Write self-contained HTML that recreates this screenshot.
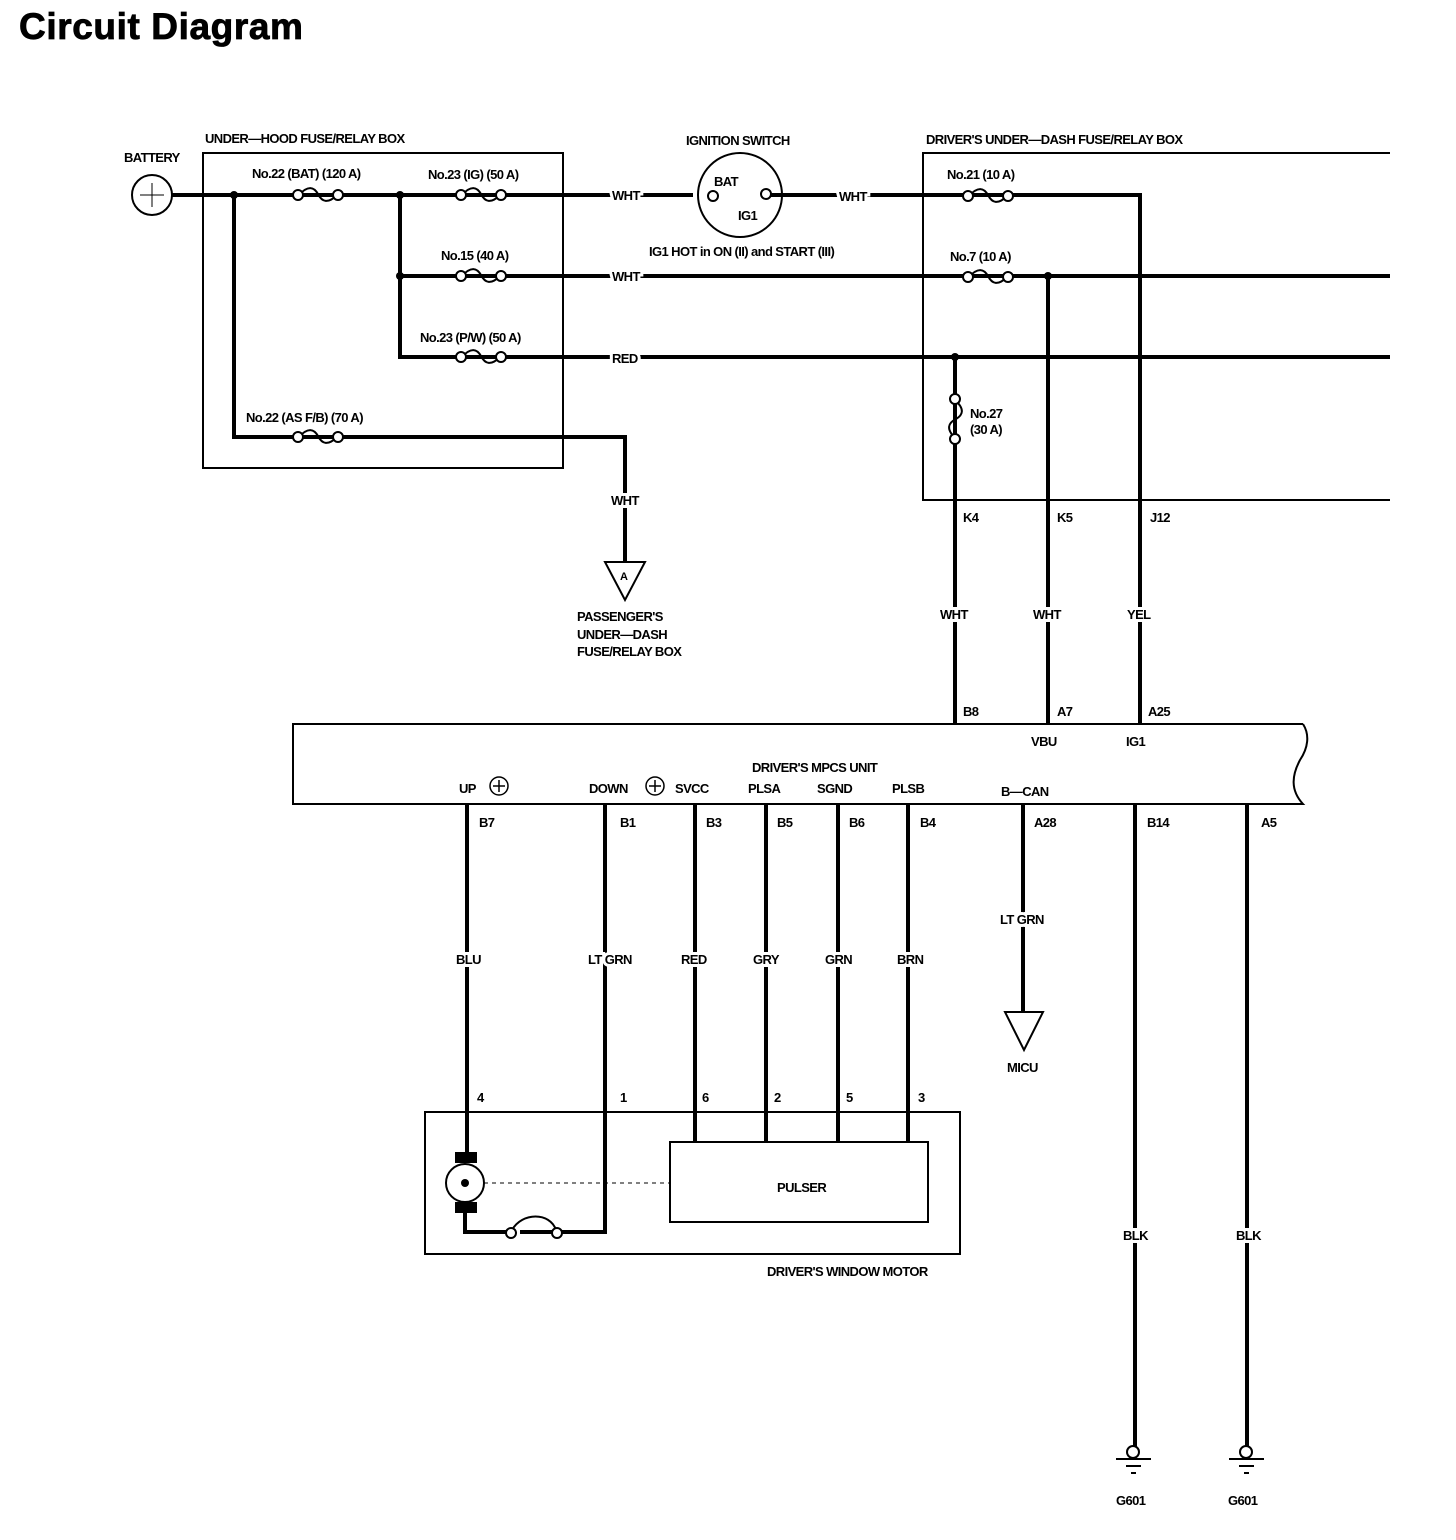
<!DOCTYPE html>
<html><head><meta charset="utf-8"><style>
html,body{margin:0;padding:0;background:#fff}
svg{display:block}
text{font-family:"Liberation Sans",sans-serif;font-weight:bold;font-size:13px;fill:#000;letter-spacing:-0.6px}
.lbl{paint-order:stroke;stroke:#fff;stroke-width:6px}
</style></head><body>
<svg width="1456" height="1540" viewBox="0 0 1456 1540" xmlns="http://www.w3.org/2000/svg">
<defs>
<g id="fh" fill="#fff" stroke="#000" stroke-width="2">
<path d="M-19,0 C-10,-10 -4,-8 0,-1 C4,7 10,9 19,0" fill="none"/>
<circle cx="-20" cy="0" r="5"/><circle cx="20" cy="0" r="5"/>
</g>
</defs>
<text x="19" y="39" style="font-size:37px;letter-spacing:0.6px;stroke:#000;stroke-width:0.8px">Circuit Diagram</text>

<g stroke="#000" fill="none">
<rect x="203" y="153" width="360" height="315" stroke-width="2"/>
<path d="M1390,153 H923 V500 H1390" stroke-width="2"/>
<circle cx="152" cy="195" r="20" stroke-width="2"/>
<path d="M140,195 H164 M152,183 V207" stroke-width="1"/>
<g stroke-width="4">
<path d="M172,195 H693"/>
<path d="M234,195 V437 H625 V562"/>
<path d="M400,195 V357 H1390"/>
<path d="M400,276 H1390"/>
<path d="M771,195 H1140 V724"/>
<path d="M1048,276 V724"/>
<path d="M955,357 V724"/>
<path d="M467,804 V1152"/>
<path d="M605,804 V1232 H520"/>
<path d="M465,1212 V1232 H510"/>
<path d="M695,804 V1142 M766,804 V1142 M838,804 V1142 M908,804 V1142"/>
<path d="M1023,804 V1012"/>
<path d="M1135,804 V1447 M1247,804 V1447"/>
</g>
<circle cx="740" cy="195" r="42" stroke-width="2"/>
<circle cx="713" cy="196" r="5" fill="#fff" stroke-width="2"/>
<circle cx="766" cy="194" r="5" fill="#fff" stroke-width="2"/>
<path d="M605,562 H645 L625,600 Z" stroke-width="2" fill="#fff"/>
<path d="M1005,1012 H1043 L1024,1050 Z" stroke-width="2" fill="#fff"/>
<path d="M1303,724 H293 V804 H1303 C1290,790 1292,775 1300,760 C1308,748 1310,735 1303,724" stroke-width="2" fill="none"/>
<rect x="425" y="1112" width="535" height="142" stroke-width="2"/>
<rect x="670" y="1142" width="258" height="80" stroke-width="2"/>
<circle cx="465" cy="1183" r="19" stroke-width="2"/>
<path d="M484,1183 H670" stroke-width="1" stroke-dasharray="4,4"/>
<!-- motor fuse arc -->
<path d="M512,1230 C522,1212 550,1212 556,1230" stroke-width="2"/>
<circle cx="511" cy="1233" r="5" fill="#fff" stroke-width="2"/>
<circle cx="557" cy="1233" r="5" fill="#fff" stroke-width="2"/>
<g stroke-width="2">
<circle cx="1133" cy="1452" r="6" fill="#fff"/>
<path d="M1116,1459 H1151 M1126,1466 H1141 M1131,1473 H1136"/>
<circle cx="1246" cy="1452" r="6" fill="#fff"/>
<path d="M1229,1459 H1264 M1239,1466 H1254 M1244,1473 H1249"/>
</g>
</g>
<rect x="455" y="1152" width="22" height="11" fill="#000"/>
<rect x="455" y="1202" width="22" height="11" fill="#000"/>
<circle cx="465" cy="1183" r="4" fill="#000"/>
<g fill="#000">
<circle cx="234" cy="195" r="4"/><circle cx="400" cy="195" r="4"/><circle cx="400" cy="276" r="4"/>
<circle cx="1048" cy="276" r="4"/><circle cx="955" cy="357" r="4"/>
</g>
<use href="#fh" x="318" y="195"/>
<use href="#fh" x="481" y="195"/>
<use href="#fh" x="481" y="276"/>
<use href="#fh" x="481" y="357"/>
<use href="#fh" x="318" y="437"/>
<use href="#fh" x="988" y="196"/>
<use href="#fh" x="988" y="277"/>
<use href="#fh" x="0" y="0" transform="translate(955 419) rotate(90)"/>

<text x="124" y="162">BATTERY</text>
<text x="205" y="143">UNDER—HOOD FUSE/RELAY BOX</text>
<text x="252" y="178">No.22 (BAT) (120 A)</text>
<text x="428" y="179">No.23 (IG) (50 A)</text>
<text x="441" y="260">No.15 (40 A)</text>
<text x="420" y="342">No.23 (P/W) (50 A)</text>
<text x="246" y="422">No.22 (AS F/B) (70 A)</text>
<text x="686" y="145">IGNITION SWITCH</text>
<text x="714" y="186">BAT</text>
<text x="738" y="220">IG1</text>
<text x="649" y="256">IG1 HOT in ON (II) and START (III)</text>
<text x="926" y="144">DRIVER'S UNDER—DASH FUSE/RELAY BOX</text>
<text x="947" y="179">No.21 (10 A)</text>
<text x="950" y="261">No.7 (10 A)</text>
<text x="970" y="418">No.27</text>
<text x="970" y="434">(30 A)</text>
<text class="lbl" x="612" y="200">WHT</text>
<text class="lbl" x="612" y="281">WHT</text>
<text class="lbl" x="612" y="363">RED</text>
<text class="lbl" x="839" y="201">WHT</text>
<text class="lbl" x="611" y="505">WHT</text>
<text x="620" y="580" style="font-size:11px">A</text>
<text x="577" y="621">PASSENGER'S</text>
<text x="577" y="639">UNDER—DASH</text>
<text x="577" y="656">FUSE/RELAY BOX</text>
<text x="963" y="522">K4</text><text x="1057" y="522">K5</text><text x="1150" y="522">J12</text>
<text class="lbl" x="940" y="619">WHT</text>
<text class="lbl" x="1033" y="619">WHT</text>
<text class="lbl" x="1127" y="619">YEL</text>
<text x="963" y="716">B8</text><text x="1057" y="716">A7</text><text x="1148" y="716">A25</text>
<text x="1031" y="746">VBU</text><text x="1126" y="746">IG1</text>
<text x="752" y="772">DRIVER'S MPCS UNIT</text>
<text x="459" y="793">UP</text>
<text x="589" y="793">DOWN</text>
<text x="675" y="793">SVCC</text>
<text x="748" y="793">PLSA</text>
<text x="817" y="793">SGND</text>
<text x="892" y="793">PLSB</text>
<text x="1001" y="796">B—CAN</text>
<g stroke="#000" stroke-width="1.5" fill="none">
<circle cx="499" cy="786" r="9"/><path d="M493,786 H505 M499,780 V792"/>
<circle cx="655" cy="786" r="9"/><path d="M649,786 H661 M655,780 V792"/>
</g>
<text x="479" y="827">B7</text><text x="620" y="827">B1</text><text x="706" y="827">B3</text>
<text x="777" y="827">B5</text><text x="849" y="827">B6</text><text x="920" y="827">B4</text>
<text x="1034" y="827">A28</text><text x="1147" y="827">B14</text><text x="1261" y="827">A5</text>
<text class="lbl" x="456" y="964">BLU</text>
<text class="lbl" x="588" y="964">LT GRN</text>
<text class="lbl" x="681" y="964">RED</text>
<text class="lbl" x="753" y="964">GRY</text>
<text class="lbl" x="825" y="964">GRN</text>
<text class="lbl" x="897" y="964">BRN</text>
<text class="lbl" x="1000" y="924">LT GRN</text>
<text x="1007" y="1072">MICU</text>
<text class="lbl" x="1123" y="1240">BLK</text>
<text class="lbl" x="1236" y="1240">BLK</text>
<text x="477" y="1102">4</text><text x="620" y="1102">1</text><text x="702" y="1102">6</text>
<text x="774" y="1102">2</text><text x="846" y="1102">5</text><text x="918" y="1102">3</text>
<text x="777" y="1192">PULSER</text>
<text x="767" y="1276">DRIVER'S WINDOW MOTOR</text>
<text x="1116" y="1505">G601</text>
<text x="1228" y="1505">G601</text>
</svg>
</body></html>
